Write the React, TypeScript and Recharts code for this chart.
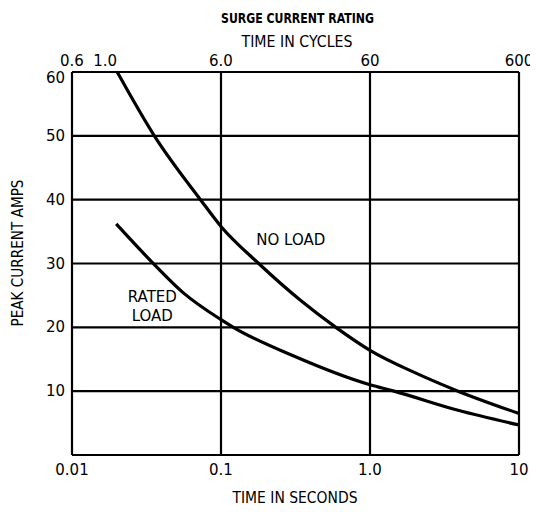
import { LineChart, Line, XAxis, YAxis, CartesianGrid, ReferenceDot } from 'recharts';

// surge current curves
const noLoadSeconds = [0.0201, 0.0357, 0.0728, 0.1, 0.179, 0.343, 0.59, 1, 2, 3.9, 10];
const noLoadAmps = [60, 50, 40, 35.8, 30, 24.2, 20, 16.4, 12.9, 10, 6.5];

const ratedSeconds = [0.0198, 0.0335, 0.0559, 0.1, 0.121, 0.308, 1, 1.45, 3.9, 10];
const ratedAmps = [36.2, 30.5, 25.4, 21.2, 20, 15.5, 11, 10, 7.0, 4.7];

const secondTicks = [0.01, 0.1, 1, 10];
const secondLabels = ['0.01', '0.1', '1.0', '10'];
const cycleTicks = [0.6, 1, 6, 60, 600];
const cycleLabels = ['0.6', '1.0', '6.0', '60', '600'];
const ampTicks = [0, 10, 20, 30, 40, 50, 60];

const FONT = '"DejaVu Sans", sans-serif';

const noLoad = noLoadSeconds.map((sec, i) => ({ sec, amps: noLoadAmps[i] }));
const rated = ratedSeconds.map((sec, i) => ({ sec, amps: ratedAmps[i] }));
// rows for the top (cycles) axis, so it has data to lay out against
const cycleRows = cycleTicks.map((cycles) => ({ cycles }));

const tickStyle = { fontSize: 15, fill: '#000', fontFamily: FONT };

// the top amp label sits just under the frame, like the original
function AmpTick({ x, y, payload }: { x: number; y: number; payload: { value: number } }) {
  if (payload.value === 0) return null;
  return (
    <text x={x} y={y} dy={payload.value === 60 ? 11 : 5} textAnchor="end" {...tickStyle}>
      {payload.value}
    </text>
  );
}

const noteLabel = (value: string) => ({
  value,
  position: 'center' as const,
  fill: '#000',
  fontSize: 15,
  fontFamily: FONT,
});

export default function App() {
  return (
    <LineChart width={530} height={504} data={cycleRows} margin={{ top: 0, right: 19, bottom: 0, left: 0 }}>
      <CartesianGrid stroke="#000" strokeWidth={2.2} />
      <XAxis
        dataKey="sec"
        type="number"
        scale="log"
        domain={[0.01, 10]}
        allowDataOverflow
        ticks={secondTicks}
        tickFormatter={(v) => secondLabels[secondTicks.indexOf(v)] ?? String(v)}
        interval={0}
        height={57}
        axisLine={false}
        tickLine={false}
        tickSize={6}
        tickMargin={3}
        tick={tickStyle}
      />
      <XAxis
        xAxisId="cycles"
        dataKey="cycles"
        orientation="top"
        type="number"
        scale="log"
        domain={[0.6, 600]}
        allowDataOverflow
        ticks={cycleTicks}
        tickFormatter={(v) => cycleLabels[cycleTicks.indexOf(v)] ?? String(v)}
        interval={0}
        height={64}
        axisLine={false}
        tickLine={false}
        tickSize={3}
        tickMargin={3}
        tick={tickStyle}
      />
      <YAxis
        type="number"
        domain={[0, 60]}
        ticks={ampTicks}
        interval={0}
        width={64}
        axisLine={false}
        tickLine={false}
        tickSize={4}
        tickMargin={3}
        tick={AmpTick}
      />
      <Line
        data={noLoad}
        dataKey="amps"
        type="monotone"
        stroke="#000"
        strokeWidth={3.2}
        dot={false}
        isAnimationActive={false}
      />
      <Line
        data={rated}
        dataKey="amps"
        type="monotone"
        stroke="#000"
        strokeWidth={3.2}
        dot={false}
        isAnimationActive={false}
      />
      <ReferenceDot x={0.294} y={33.7} r={0} fill="none" stroke="none" label={noteLabel('NO LOAD')} />
      <ReferenceDot x={0.0346} y={24.75} r={0} fill="none" stroke="none" label={noteLabel('RATED')} />
      <ReferenceDot x={0.0346} y={21.9} r={0} fill="none" stroke="none" label={noteLabel('LOAD')} />
      <text
        x={289.5}
        y={15}
        textAnchor="middle"
        fontFamily={FONT}
        fontSize={14}
        fontWeight="bold"
        fill="#000"
        textLength={153}
        lengthAdjust="spacingAndGlyphs"
      >
        SURGE CURRENT RATING
      </text>
      <text x={289} y={39} textAnchor="middle" fontFamily={FONT} fontSize={15.5} fill="#000" textLength={111} lengthAdjust="spacingAndGlyphs">
        TIME IN CYCLES
      </text>
      <text x={287} y={495} textAnchor="middle" fontFamily={FONT} fontSize={15.5} fill="#000" textLength={125} lengthAdjust="spacingAndGlyphs">
        TIME IN SECONDS
      </text>
      <text
        x={10}
        y={245}
        textAnchor="middle"
        dominantBaseline="central"
        transform="rotate(-90 10 245)"
        fontFamily={FONT}
        fontSize={15.5}
        fill="#000"
        textLength={147}
        lengthAdjust="spacingAndGlyphs"
      >
        PEAK CURRENT AMPS
      </text>
    </LineChart>
  );
}
